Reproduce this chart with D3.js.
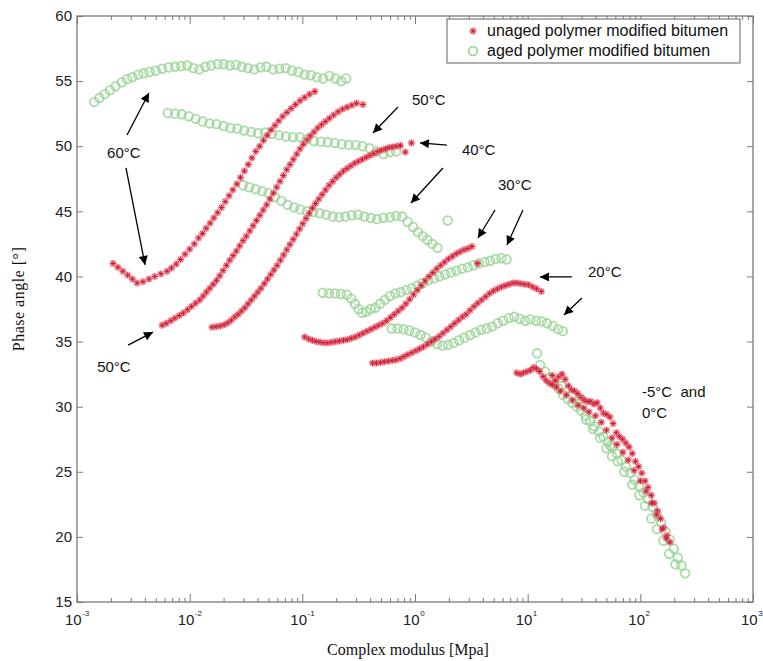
<!DOCTYPE html>
<html>
<head>
<meta charset="utf-8">
<script src="https://cdn.jsdelivr.net/npm/d3@7"></script>
<style>
  body { margin: 0; background: #fff; }
  svg { display: block; }
</style>
</head>
<body>
<div id="chart"></div>
<script>
// aged polymer modified bitumen: [complex modulus (MPa), phase angle (deg)]
const aged60 = [[0.00142,53.4],[0.00158,53.7],[0.00176,54.0],[0.00196,54.3],[0.0022,54.6],[0.0025,54.9],[0.00278,55.15],[0.0031,55.3],[0.0035,55.5],[0.0039,55.6],[0.0044,55.7],[0.005,55.8],[0.0057,55.95],[0.0065,56.05],[0.0074,56.1],[0.0084,56.15],[0.0095,56.2],[0.0108,56.0],[0.0122,55.9],[0.0138,56.1],[0.0156,56.2],[0.0177,56.3],[0.02,56.3],[0.0227,56.2],[0.0257,56.25],[0.029,56.1],[0.033,56.0],[0.0375,55.9],[0.0425,56.05],[0.048,56.1],[0.055,55.9],[0.0625,55.95],[0.071,56.0],[0.081,55.8],[0.092,55.7],[0.105,55.5],[0.119,55.45],[0.135,55.3],[0.153,55.2],[0.174,55.4],[0.197,55.2],[0.222,55.0],[0.245,55.2]];
const aged50 = [[0.0064,52.55],[0.0074,52.5],[0.0085,52.45],[0.0098,52.3],[0.0113,52.1],[0.013,51.9],[0.015,51.75],[0.0173,51.7],[0.02,51.55],[0.023,51.4],[0.0265,51.35],[0.0305,51.2],[0.0352,51.1],[0.0405,51.0],[0.0467,51.05],[0.0538,50.95],[0.062,50.85],[0.0715,50.75],[0.0825,50.7],[0.095,50.7],[0.11,50.55],[0.127,50.4],[0.146,50.35],[0.168,50.3],[0.194,50.25],[0.224,50.15],[0.258,50.1],[0.297,50.1],[0.342,50.0],[0.394,49.85],[0.455,49.6],[0.525,49.4],[0.6,49.55],[0.68,49.6]];
const aged40 = [[0.0297,47.0],[0.0337,46.85],[0.0385,46.7],[0.044,46.55],[0.05,46.4],[0.057,46.1],[0.065,45.8],[0.074,45.5],[0.0845,45.3],[0.096,45.15],[0.11,45.0],[0.125,44.95],[0.143,44.85],[0.163,44.75],[0.186,44.6],[0.212,44.55],[0.24,44.6],[0.274,44.7],[0.312,44.75],[0.355,44.6],[0.405,44.5],[0.46,44.4],[0.525,44.5],[0.6,44.55],[0.68,44.65],[0.77,44.6],[0.86,44.2],[0.96,43.8],[1.06,43.4],[1.17,43.1],[1.29,42.8],[1.42,42.5],[1.58,42.2],[1.95,44.3]];
const aged30 = [[0.152,38.75],[0.172,38.7],[0.195,38.7],[0.22,38.65],[0.248,38.6],[0.272,38.3],[0.293,37.9],[0.315,37.5],[0.34,37.2],[0.37,37.3],[0.405,37.5],[0.445,37.6],[0.49,37.9],[0.54,38.2],[0.6,38.5],[0.67,38.7],[0.75,38.8],[0.84,38.95],[0.94,39.1],[1.05,39.3],[1.17,39.5],[1.31,39.7],[1.47,39.85],[1.65,40.0],[1.85,40.15],[2.08,40.3],[2.33,40.45],[2.62,40.6],[2.94,40.7],[3.3,40.85],[3.7,41.0],[4.15,41.1],[4.65,41.2],[5.2,41.35],[5.85,41.4],[6.5,41.3]];
const aged20 = [[0.62,36.0],[0.7,36.0],[0.79,35.95],[0.89,35.85],[1.0,35.7],[1.12,35.5],[1.25,35.3],[1.4,35.0],[1.57,34.8],[1.76,34.7],[1.97,34.75],[2.2,34.9],[2.46,35.1],[2.75,35.3],[3.08,35.5],[3.45,35.7],[3.86,35.9],[4.32,36.0],[4.84,36.15],[5.42,36.4],[6.07,36.6],[6.8,36.8],[7.6,36.9],[8.5,36.75],[9.5,36.6],[10.6,36.7],[11.9,36.6],[13.3,36.55],[14.9,36.4],[16.7,36.2],[18.6,35.95],[20.5,35.8]];
const agedLow = [[12.1,34.1],[12.9,33.2],[14.2,32.7],[15.6,32.2],[17.1,31.8],[18.8,31.4],[20.6,30.9],[22.6,30.6],[24.8,30.3],[27.2,30.0],[29.8,29.7],[32.7,29.3],[35.8,28.9],[39.2,28.5],[43,28.1],[47,27.7],[51.5,27.3],[56.5,26.9],[62,26.4],[68,25.9],[74.5,25.4],[81.5,24.9],[89,24.4],[97.5,23.9],[107,23.4],[117,22.9],[128,22.3],[140,21.7],[153,21.1],[167,20.4],[182,19.8],[198,19.1],[215,18.4],[232,17.8],[250,17.2],
  [20,31.6],[25,30.9],[30,30.6],[33,29.0],[38,28.3],[44,27.6],[50,26.8],[54,27.0],[56,26.2],[63,25.8],[72,25.0],[85,24.0],[98,23.2],[110,22.4],[125,21.4],[140,20.6],[160,19.7],[180,18.7],[205,17.9]];

// unaged polymer modified bitumen
const unaged60 = [[0.00209,41.0],[0.00231,40.7],[0.00255,40.4],[0.00282,40.1],[0.0031,39.8],[0.00341,39.5],[0.00385,39.6],[0.00435,39.8],[0.0049,40.0],[0.00555,40.2],[0.0063,40.4],[0.0069,40.65],[0.0076,40.95],[0.0083,41.3],[0.0091,41.7],[0.01,42.1],[0.011,42.5],[0.012,42.95],[0.013,43.3],[0.014,43.7],[0.0152,44.1],[0.0164,44.5],[0.0177,44.9],[0.0192,45.3],[0.0207,45.75],[0.0224,46.2],[0.0242,46.65],[0.0262,47.1],[0.0283,47.6],[0.0306,48.1],[0.0331,48.6],[0.0357,49.1],[0.0386,49.6],[0.0418,50.0],[0.0452,50.45],[0.0488,50.85],[0.0528,51.25],[0.0571,51.6],[0.0617,51.95],[0.067,52.3],[0.073,52.6],[0.0795,52.9],[0.087,53.2],[0.0955,53.5],[0.105,53.75],[0.116,54.0],[0.129,54.2]];
const unaged50 = [[0.0057,36.25],[0.0062,36.4],[0.0068,36.6],[0.0074,36.8],[0.0081,37.0],[0.0088,37.2],[0.0096,37.45],[0.0104,37.7],[0.0113,37.95],[0.0123,38.2],[0.0132,38.5],[0.0141,38.8],[0.0151,39.1],[0.0162,39.4],[0.0173,39.7],[0.0185,40.05],[0.0198,40.45],[0.0212,40.85],[0.0227,41.25],[0.0243,41.6],[0.026,41.95],[0.0278,42.35],[0.0298,42.75],[0.0319,43.1],[0.0342,43.5],[0.0366,43.9],[0.0392,44.3],[0.042,44.7],[0.045,45.1],[0.0482,45.5],[0.0516,45.95],[0.0553,46.4],[0.0592,46.85],[0.0634,47.3],[0.0679,47.75],[0.0727,48.2],[0.0778,48.6],[0.0833,49.0],[0.0892,49.4],[0.0955,49.8],[0.102,50.15],[0.11,50.5],[0.118,50.8],[0.127,51.1],[0.137,51.4],[0.148,51.65],[0.16,51.9],[0.174,52.15],[0.19,52.4],[0.208,52.65],[0.228,52.85],[0.25,53.0],[0.275,53.15],[0.303,53.3],[0.345,53.2]];
const unaged40 = [[0.0158,36.1],[0.0172,36.15],[0.0187,36.2],[0.0203,36.3],[0.0219,36.45],[0.0235,36.65],[0.0252,36.9],[0.027,37.1],[0.0289,37.35],[0.0309,37.6],[0.033,37.9],[0.0353,38.2],[0.0377,38.5],[0.0403,38.8],[0.043,39.1],[0.046,39.45],[0.0491,39.8],[0.0525,40.15],[0.056,40.5],[0.0598,40.85],[0.0639,41.25],[0.0682,41.65],[0.0728,42.05],[0.0777,42.45],[0.083,42.85],[0.0886,43.25],[0.0946,43.65],[0.101,44.05],[0.108,44.45],[0.115,44.85],[0.123,45.25],[0.131,45.6],[0.14,45.95],[0.15,46.3],[0.161,46.65],[0.173,47.0],[0.186,47.3],[0.2,47.6],[0.215,47.85],[0.232,48.1],[0.25,48.3],[0.27,48.5],[0.292,48.7],[0.316,48.85],[0.342,49.0],[0.37,49.15],[0.4,49.3],[0.433,49.45],[0.468,49.6],[0.506,49.7],[0.547,49.8],[0.59,49.9],[0.637,49.95],[0.688,50.0],[0.743,50.05],[0.82,49.55],[0.93,50.25]];
const unaged30 = [[0.105,35.35],[0.114,35.2],[0.123,35.1],[0.133,35.0],[0.144,34.95],[0.156,34.9],[0.169,34.9],[0.183,34.95],[0.198,35.0],[0.214,35.05],[0.232,35.1],[0.251,35.15],[0.272,35.25],[0.295,35.35],[0.32,35.5],[0.347,35.65],[0.376,35.8],[0.407,35.95],[0.441,36.1],[0.477,36.25],[0.517,36.4],[0.56,36.6],[0.606,36.85],[0.656,37.1],[0.71,37.35],[0.768,37.6],[0.83,37.9],[0.898,38.25],[0.971,38.6],[1.05,38.95],[1.135,39.3],[1.23,39.65],[1.33,40.0],[1.44,40.3],[1.56,40.6],[1.69,40.85],[1.83,41.1],[1.98,41.35],[2.15,41.55],[2.33,41.75],[2.52,41.9],[2.73,42.05],[2.96,42.15],[3.2,42.3],[3.6,41.0]];
const unaged20 = [[0.42,33.35],[0.455,33.35],[0.495,33.4],[0.535,33.45],[0.58,33.5],[0.63,33.55],[0.68,33.6],[0.74,33.7],[0.8,33.85],[0.865,34.0],[0.94,34.15],[1.02,34.3],[1.1,34.45],[1.19,34.6],[1.29,34.8],[1.4,35.0],[1.51,35.2],[1.64,35.4],[1.77,35.65],[1.92,35.9],[2.08,36.15],[2.25,36.4],[2.44,36.65],[2.64,36.9],[2.85,37.1],[3.08,37.4],[3.34,37.7],[3.61,37.95],[3.91,38.2],[4.24,38.45],[4.6,38.7],[4.98,38.9],[5.4,39.05],[5.85,39.2],[6.33,39.3],[6.86,39.4],[7.43,39.5],[8.05,39.5],[8.72,39.45],[9.45,39.4],[10.2,39.35],[11.1,39.2],[12.0,39.05],[13.2,38.85]];
const unagedLow = [[8.0,32.6],[8.6,32.5],[9.2,32.6],[9.9,32.7],[10.6,32.8],[11.3,33.0],[12.0,32.9],[12.8,32.7],[13.7,32.3],[14.6,32.0],[15.6,31.8],[16.6,31.7],[17.7,32.0],[18.9,32.3],[20.2,32.5],[21.5,32.1],[23.0,31.6],[24.5,31.3],[26.1,31.2],[27.9,31.0],[29.8,30.7],[31.8,30.5],[34.0,30.4],[36.3,30.4],[38.7,30.2],[41.3,30.3],[44.1,29.9],[47.1,29.5],[50.3,29.4],[53.7,29.2],[57.3,28.7],[61.2,28.0],[65.3,27.7],[69.7,27.5],[74.4,27.2],[79.4,26.9],[84.8,26.4],[90.5,25.8],[96.6,25.4],[103,24.9],[110,24.3],[117,23.8],[125,23.2],[133,22.6],[142,22.0],[151,21.4],[161,20.7],[172,20.1],[183,19.6],
  [16.5,32.4],[18.0,31.5],[19.5,31.2],[22,30.9],[25,30.5],[28,30.1],[31.5,29.9],[35,29.6],[40,29.3],[45,28.8],[50,28.2],[56,27.6],[62,27.1],[70,26.5],[78,25.9],[88,25.1],[100,24.3],[112,23.5],[126,22.6],[140,21.7],[156,20.6],[170,19.9]];

const xTickExponents = [-3, -2, -1, 0, 1, 2, 3];
const yTickValues = [15, 20, 25, 30, 35, 40, 45, 50, 55, 60];
const legendLabels = ['unaged polymer modified bitumen', 'aged polymer modified bitumen'];
const xTitle = 'Complex modulus [Mpa]';
const yTitle = 'Phase angle [°]';

// temperature notes, anchored in data units [modulus, angle]
const noteTexts = [
  {text: '60°C', at: [0.00185, 49.1]},
  {text: '50°C', at: [0.00151, 32.66]},
  {text: '50°C', at: [0.94, 53.17]},
  {text: '40°C', at: [2.61, 49.33]},
  {text: '30°C', at: [5.45, 46.64]},
  {text: '20°C', at: [34.3, 39.96]},
  {text: '-5°C  and', at: [103.5, 30.74]},
  {text: '0°C', at: [103.5, 29.13]}
];
const noteArrows = [
  [[0.00278, 50.86], [0.00435, 54.09]],
  [[0.00272, 48.33], [0.00402, 40.88]],
  [[0.00284, 34.73], [0.00473, 35.73]],
  [[0.706, 53.01], [0.424, 51.02]],
  [[1.92, 50.09], [1.106, 50.25]],
  [[1.77, 48.33], [0.92, 45.64]],
  [[5.13, 45.1], [3.62, 42.95]],
  [[9.08, 45.1], [6.55, 42.41]],
  [[24.7, 39.96], [12.85, 39.96]],
  [[30.3, 38.34], [21.0, 37.04]]
];

let width = 763;
let height = 661;
let axisColor = '#7a7a7a';
let greenRing = '#9ad596';
let sans = '"Liberation Sans", Arial, sans-serif';
let serif = '"Liberation Serif", "Times New Roman", serif';

let x = d3.scaleLog().domain([1e-3, 1e3]).range([77, 753]);
let y = d3.scaleLinear().domain([15, 60]).range([602, 16]);

let svg = d3.select('#chart').append('svg')
    .attr('width', width)
    .attr('height', height);

svg.append('rect').attr('width', width).attr('height', height).attr('fill', '#fff');

let defs = svg.append('defs');
defs.append('marker')
    .attr('id', 'head')
    .attr('viewBox', '0 0 10 10')
    .attr('refX', 10)
    .attr('refY', 5)
    .attr('markerUnits', 'userSpaceOnUse')
    .attr('markerWidth', 12)
    .attr('markerHeight', 9)
    .attr('orient', 'auto')
  .append('path')
    .attr('d', 'M0,0L10,5L0,10Z')
    .attr('fill', '#000');

// major and minor tick positions on the log axis
let majorX = xTickExponents.map(e => Math.pow(10, e));
let minorX = [];
xTickExponents.slice(0, -1).forEach(e => {
    for (let k = 2; k <= 9; k++) minorX.push(k * Math.pow(10, e));
});

let plot = svg.append('g');

// aged = open green circles
let agedSeries = [aged60, aged50, aged40, aged30, aged20, agedLow];
agedSeries.forEach(series => {
    plot.append('g').selectAll('circle')
        .data(series)
        .enter()
        .append('circle')
        .attr('cx', d => x(d[0]))
        .attr('cy', d => y(d[1]))
        .attr('r', 4.3)
        .attr('fill', 'none')
        .attr('stroke', greenRing)
        .attr('stroke-opacity', 0.85)
        .attr('stroke-width', 1.8);
});

// unaged = red asterisks with the soft halo of the scanned figure
let starPath = 'M-3,0H3M0,-3V3M-2.2,-2.2L2.2,2.2M-2.2,2.2L2.2,-2.2';
let unagedSeries = [unaged60, unaged50, unaged40, unaged30, unaged20, unagedLow];
unagedSeries.forEach(series => {
    let g = plot.append('g').selectAll('g')
        .data(series)
        .enter()
        .append('g')
        .attr('transform', d => `translate(${x(d[0])},${y(d[1])})`);
    g.append('circle')
        .attr('r', 3.7)
        .attr('fill', '#f26b78')
        .attr('fill-opacity', 0.45);
    g.append('path')
        .attr('d', starPath)
        .attr('stroke', '#c8142c')
        .attr('stroke-width', 0.9)
        .attr('fill', 'none');
});

// axes: ticks point inward on all four sides
let axes = svg.append('g').attr('color', axisColor);
axes.append('g').attr('transform', `translate(0,${y(15)})`)
    .call(d3.axisBottom(x).tickValues(majorX).tickSize(-8).tickFormat(''));
axes.append('g').attr('transform', `translate(0,${y(15)})`)
    .call(d3.axisBottom(x).tickValues(minorX).tickSize(-4).tickFormat(''));
axes.append('g').attr('transform', `translate(0,${y(60)})`)
    .call(d3.axisTop(x).tickValues(majorX).tickSize(-8).tickFormat(''));
axes.append('g').attr('transform', `translate(0,${y(60)})`)
    .call(d3.axisTop(x).tickValues(minorX).tickSize(-4).tickFormat(''));
axes.append('g').attr('transform', `translate(${x(1e-3)},0)`)
    .call(d3.axisLeft(y).tickValues(yTickValues).tickSize(-6).tickFormat(''));
axes.append('g').attr('transform', `translate(${x(1e3)},0)`)
    .call(d3.axisRight(y).tickValues(yTickValues).tickSize(-6).tickFormat(''));
axes.selectAll('.domain').remove();
axes.selectAll('line').attr('stroke-width', 1);

svg.append('rect')
    .attr('x', x(1e-3))
    .attr('y', y(60))
    .attr('width', x(1e3) - x(1e-3))
    .attr('height', y(15) - y(60))
    .attr('fill', 'none')
    .attr('stroke', axisColor)
    .attr('stroke-width', 1.3);

// tick labels
svg.append('g').selectAll('text')
    .data(yTickValues)
    .enter()
    .append('text')
    .attr('x', x(1e-3) - 5)
    .attr('y', d => y(d))
    .attr('dy', '0.35em')
    .attr('text-anchor', 'end')
    .attr('font-family', sans)
    .attr('font-size', 15)
    .attr('fill', '#222')
    .text(d => d);

let xLabels = svg.append('g').selectAll('text')
    .data(xTickExponents)
    .enter()
    .append('text')
    .attr('x', d => x(Math.pow(10, d)) - 12)
    .attr('y', 625)
    .attr('font-family', sans)
    .attr('font-size', 15)
    .attr('fill', '#222');
xLabels.append('tspan').text('10');
xLabels.append('tspan')
    .attr('dy', -9)
    .attr('dx', 0.5)
    .attr('font-size', 8)
    .text(d => d);

// axis titles
svg.append('text')
    .attr('x', 408)
    .attr('y', 655)
    .attr('text-anchor', 'middle')
    .attr('font-family', serif)
    .attr('font-size', 16)
    .attr('fill', '#111')
    .text(xTitle);

svg.append('text')
    .attr('transform', 'translate(24,299) rotate(-90)')
    .attr('text-anchor', 'middle')
    .attr('font-family', serif)
    .attr('font-size', 16)
    .attr('letter-spacing', 0.5)
    .attr('fill', '#111')
    .text(yTitle);

// temperature notes
svg.append('g').selectAll('line')
    .data(noteArrows)
    .enter()
    .append('line')
    .attr('x1', d => x(d[0][0]))
    .attr('y1', d => y(d[0][1]))
    .attr('x2', d => x(d[1][0]))
    .attr('y2', d => y(d[1][1]))
    .attr('stroke', '#000')
    .attr('stroke-width', 1.3)
    .attr('marker-end', 'url(#head)');

svg.append('g').selectAll('text')
    .data(noteTexts)
    .enter()
    .append('text')
    .attr('x', d => x(d.at[0]))
    .attr('y', d => y(d.at[1]))
    .attr('font-family', sans)
    .attr('font-size', 15)
    .attr('fill', '#111')
    .style('white-space', 'pre')
    .text(d => d.text);

// legend
let legend = svg.append('g');
legend.append('rect')
    .attr('x', 447)
    .attr('y', 19)
    .attr('width', 293)
    .attr('height', 44)
    .attr('fill', '#fff')
    .attr('stroke', axisColor)
    .attr('stroke-width', 1.2);
let star = legend.append('g').attr('transform', 'translate(473,31)');
star.append('circle').attr('r', 3.7).attr('fill', '#f26b78').attr('fill-opacity', 0.45);
star.append('path').attr('d', starPath).attr('stroke', '#c8142c').attr('stroke-width', 0.9);
legend.append('circle')
    .attr('cx', 473)
    .attr('cy', 51)
    .attr('r', 4.3)
    .attr('fill', 'none')
    .attr('stroke', greenRing)
    .attr('stroke-width', 1.8);
legend.selectAll('.lbl')
    .data(legendLabels)
    .enter()
    .append('text')
    .attr('class', 'lbl')
    .attr('x', 487)
    .attr('y', (d, i) => 36 + i * 20)
    .attr('font-family', sans)
    .attr('font-size', 16)
    .attr('fill', '#111')
    .text(d => d);
</script>
</body>
</html>
